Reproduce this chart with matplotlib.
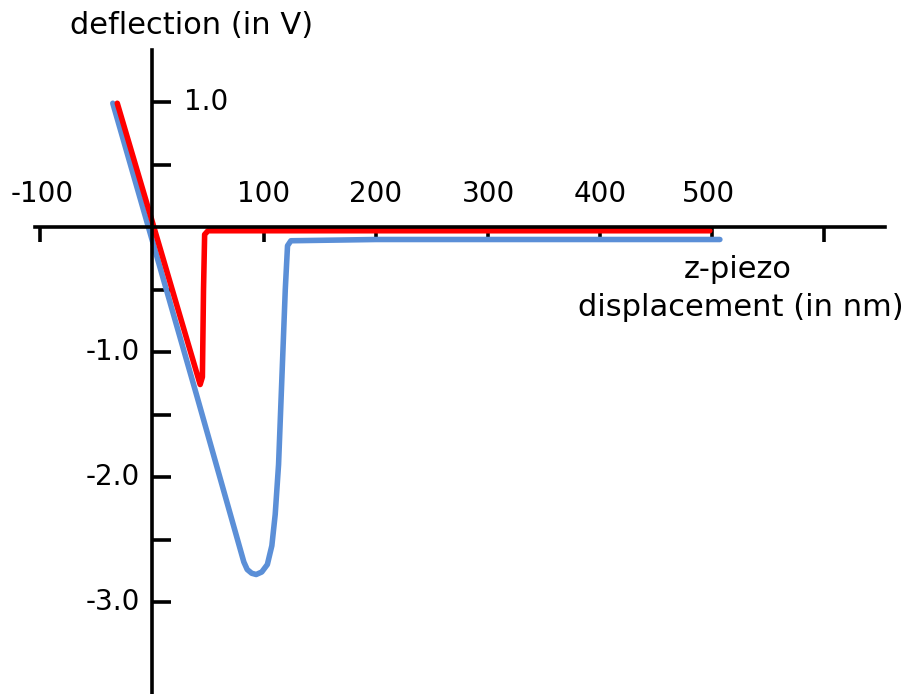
import matplotlib.pyplot as plt

# deflection curves (x in nm, y in V)
red_x = [-31, 0, 20, 43, 45, 46, 47, 50, 100, 300, 498]
red_y = [0.99, 0.05, -0.56, -1.26, -1.2, -0.5, -0.06, -0.03, -0.03, -0.03, -0.03]

blue_x = [-35, 0, 40, 82, 85, 89, 93, 98, 103, 107, 110, 113, 116, 119, 121, 124, 200, 400, 507]
blue_y = [0.99, -0.1, -1.35, -2.68, -2.74, -2.77, -2.78, -2.76, -2.7, -2.55, -2.3, -1.9, -1.2, -0.5, -0.15, -0.11, -0.1, -0.1, -0.1]

x_ticks = [-100, 0, 100, 200, 300, 400, 500, 600]
x_tick_labels = ["-100", "100", "200", "300", "400", "500"]
x_label_pos = [-98, 100, 200, 300, 400, 497]
y_ticks = [1.0, 0.5, -0.5, -1.0, -1.5, -2.0, -2.5, -3.0]
y_tick_labels = ["1.0", "-1.0", "-2.0", "-3.0"]
y_label_pos = [1.0, -1.0, -2.0, -3.0]

fig = plt.figure(figsize=(9.16, 6.94), dpi=100)
ax = fig.add_axes([0, 0, 1, 1])
ax.set_xlim(-135.7, 682.1)
ax.set_ylim(-3.736, 1.816)

ax.plot(blue_x, blue_y, color='#5b8fd7', lw=4.0, solid_capstyle='round', solid_joinstyle='round')
ax.plot(red_x, red_y, color='#ff0000', lw=4.0, solid_capstyle='round', solid_joinstyle='round')

# axes crossing at the origin
for s in ['top', 'right']:
    ax.spines[s].set_visible(False)
ax.spines['left'].set_position(('data', 0))
ax.spines['bottom'].set_position(('data', 0))
ax.spines['left'].set_bounds(-3.736, 1.42)
ax.spines['bottom'].set_bounds(-104.5, 654.5)
ax.spines['left'].set_linewidth(2.6)
ax.spines['bottom'].set_linewidth(2.6)
ax.set_xticks(x_ticks)
ax.set_yticks(y_ticks)
ax.tick_params(axis='x', direction='out', length=11, width=2.6, labelbottom=False)
ax.tick_params(axis='y', direction='in', length=14, width=2.6, labelleft=False)

fs = 20
for lab, xp in zip(x_tick_labels, x_label_pos):
    ax.text(xp, 0.26, lab, ha='center', va='center', fontsize=fs)
for lab, yp in zip(y_tick_labels, y_label_pos):
    if yp > 0:
        ax.text(29, yp, lab, ha='left', va='center', fontsize=fs)
    else:
        ax.text(-11, yp, lab, ha='right', va='center', fontsize=fs)

fs2 = 22
fig.text(192 / 916, 1 - 25 / 694, "deflection (in V)", ha='center', va='center', fontsize=fs2)
fig.text(738 / 916, 1 - 270 / 694, "z-piezo", ha='center', va='center', fontsize=fs2)
fig.text(741 / 916, 1 - 307 / 694, "displacement (in nm)", ha='center', va='center', fontsize=fs2)

fig.savefig("out.png", dpi=100)
